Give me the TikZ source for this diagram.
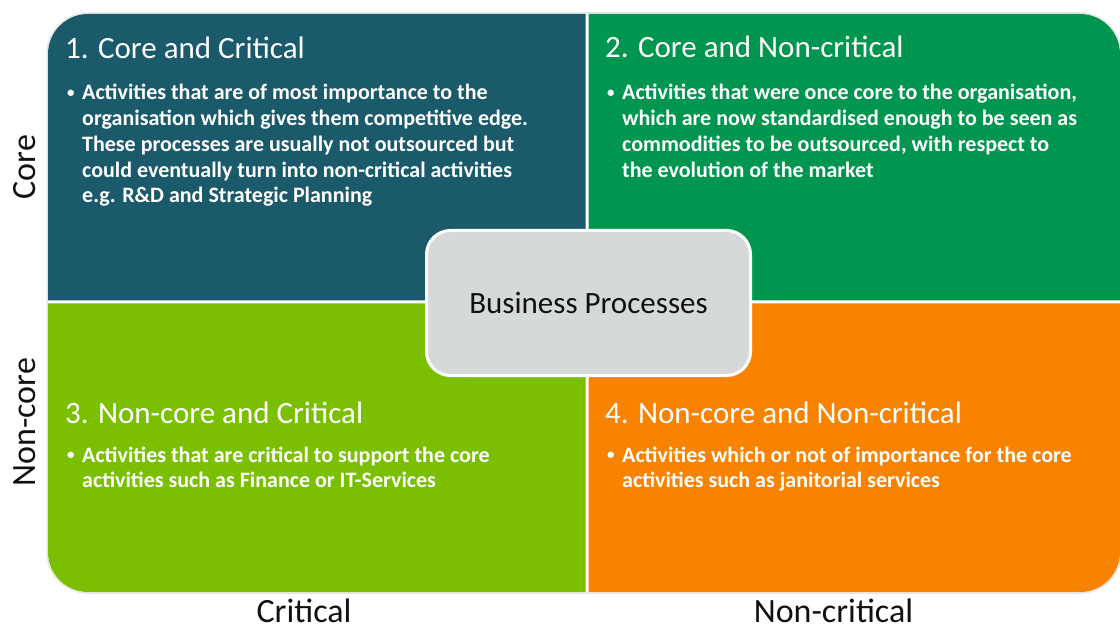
\documentclass[tikz,border=0pt]{standalone}
\usepackage{fontspec}
\setmainfont{Carlito}
\definecolor{qone}{HTML}{1B5A6B}
\definecolor{qtwo}{HTML}{009650}
\definecolor{qthree}{HTML}{7AC000}
\definecolor{qfour}{HTML}{F88300}
\definecolor{cbox}{HTML}{D6D9DA}
\definecolor{labelc}{HTML}{111111}
\tikzset{
  qtitle/.style={anchor=base west, inner sep=0pt, text=white, font=\fontsize{31}{37}\selectfont},
  qbody/.style={anchor=base west, inner sep=0pt, text=white, font=\fontsize{22}{25.7}\selectfont\bfseries},
  axislabel/.style={anchor=base, inner sep=0pt, text=labelc, font=\fontsize{34}{40}\selectfont},
  centerbox/.style={draw=white, line width=3pt, fill=cbox, rounded corners=24pt, inner sep=0pt,
    minimum width=324pt, minimum height=145pt, text height=20pt, text depth=0pt,
    text=labelc, font=\fontsize{31}{37}\selectfont}
}
\newcommand{\bulletpar}[1]{\makebox[15pt][l]{\raisebox{2.5pt}{\fontsize{15}{15}\selectfont\textbullet}}\parbox[t]{500pt}{\raggedright #1}}
\begin{document}
\begin{tikzpicture}[x=1pt,y=-1pt]
\useasboundingbox (0,0) rectangle (1120,631);
% faint outline
\draw[gray!20, line width=1.5pt, rounded corners=41pt] (47,13) rectangle (1121,593);
% quadrants
\fill[qone] (48,300.5) [rounded corners=40pt] -- (48,14) [sharp corners] -- (585.5,14) -- (585.5,300.5) -- cycle;
\fill[qtwo] (588.5,14) [rounded corners=40pt] -- (1120,14) [sharp corners] -- (1120,300.5) -- (588.5,300.5) -- cycle;
\fill[qthree] (48,303.5) [rounded corners=40pt] -- (48,592) [sharp corners] -- (585.5,592) -- (585.5,303.5) -- cycle;
\fill[qfour] (588.5,592) [rounded corners=40pt] -- (1120,592) [sharp corners] -- (1120,303.5) -- (588.5,303.5) -- cycle;
% titles
\node[qtitle] (t1) at (65,59) {1. Core and Critical};
\node[qtitle] (t2) at (605,58) {2. Core and Non-critical};
\node[qtitle] (t3) at (65,423) {3. Non-core and Critical};
\node[qtitle] (t4) at (605,423) {4. Non-core and Non-critical};
% bodies
\node[qbody] (b1) at (67,100) {\bulletpar{Activities that are of most importance to the\\organisation which gives them competitive edge.\\These processes are usually not outsourced but\\could eventually turn into non-critical activities\\e.g. R\&D and Strategic Planning}};
\node[qbody] (b2) at (607,100) {\bulletpar{Activities that were once core to the organisation,\\which are now standardised enough to be seen as\\commodities to be outsourced, with respect to\\the evolution of the market}};
\node[qbody] (b3) at (67,462) {\bulletpar{Activities that are critical to support the core\\activities such as Finance or IT-Services}};
\node[qbody] (b4) at (607,462) {\bulletpar{Activities which or not of importance for the core\\activities such as janitorial services}};
% center
\node[centerbox] (bp) at (588.5,303) {Business Processes};
% axis labels
\node[axislabel, rotate=90] (core) at (35,167) {Core};
\node[axislabel, rotate=90] (noncore) at (35,422) {Non-core};
\node[axislabel] (crit) at (304,622) {Critical};
\node[axislabel] (noncrit) at (833.5,622) {Non-critical};
\end{tikzpicture}
\end{document}
